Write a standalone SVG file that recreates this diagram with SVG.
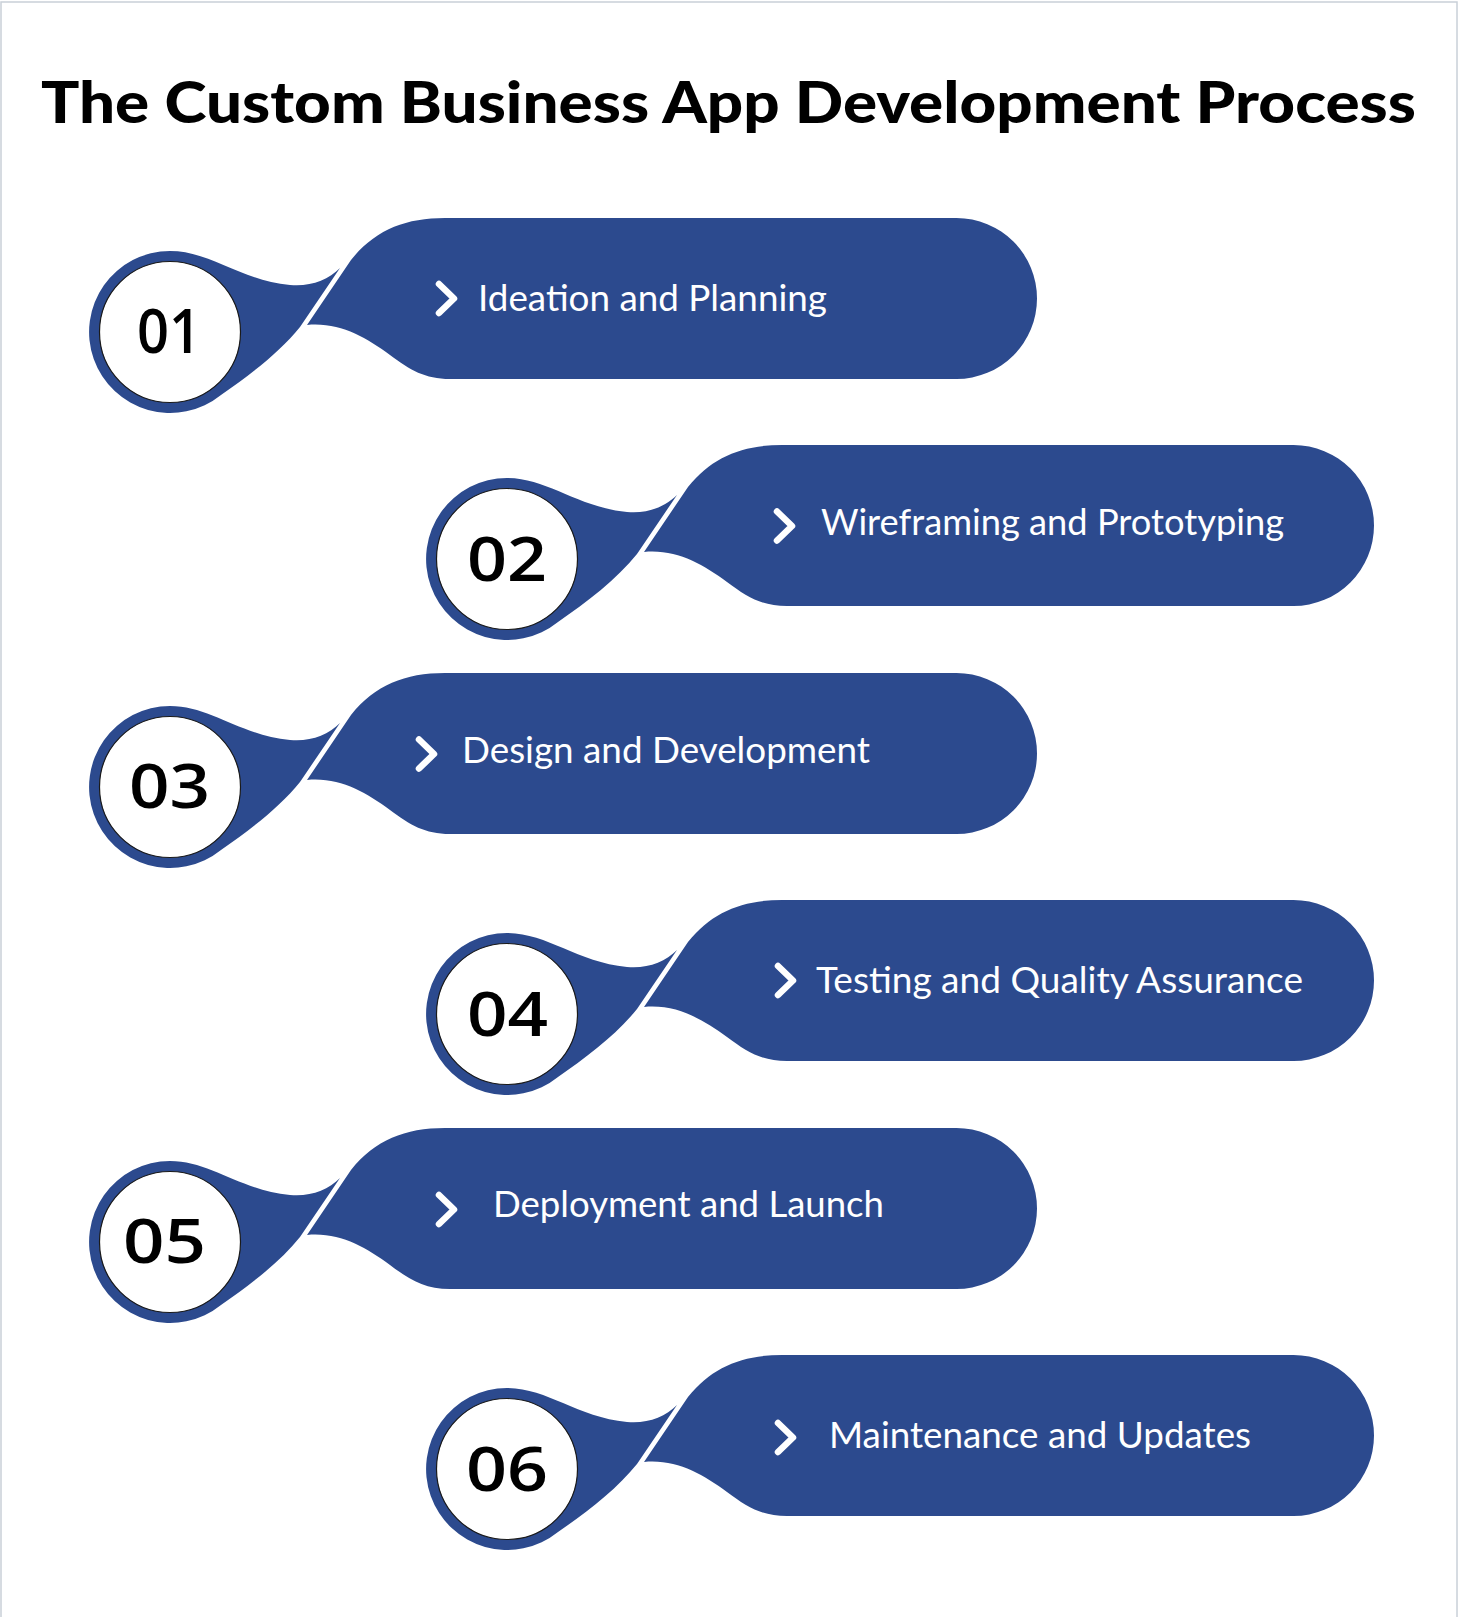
<svg xmlns="http://www.w3.org/2000/svg" width="1459" height="1617" viewBox="0 0 1459 1617">
  <defs>
    <style>
      .blue { fill: #2c4a8e; }
      .inner { fill: #ffffff; stroke: #1a1a1a; stroke-width: 1.2; }
      .num { font-family: "Open Sans", "Liberation Sans", sans-serif; font-weight: 600; font-size: 61px; fill: #000000; text-anchor: middle; }
      .label { font-family: Lato, "Liberation Sans", sans-serif; font-size: 37px; fill: #ffffff; }
      .chev { fill: none; stroke: #ffffff; stroke-width: 6.5; stroke-linecap: round; stroke-linejoin: round; }
      .title { font-family: Lato, "Liberation Sans", sans-serif; font-weight: 900; font-size: 58px; fill: #000000; }
    </style>
    <g id="shape">
      <path class="blue" d="M 170,251 C 210,251 240,280 290,285 C 310,287 328,280 340,268 L 300,327 C 280,352 250,375 221,395 A 81 81 0 1 1 170,251 Z"/>
      <circle class="inner" cx="170" cy="332" r="70.5"/>
      <path class="blue" d="M 307,325 L 351,260 C 375,230 405,218 445,218 L 956.5,218 A 80.5 80.5 0 0 1 956.5,379 L 450,379 C 425,379 410,370 390,355 C 365,337 340,322 307,325 Z"/>
    </g>
  </defs>

  <rect x="1" y="2" width="1456" height="1640" fill="#ffffff" stroke="#c9d0d8" stroke-width="1.5"/>

  <text class="title" x="41" y="123" textLength="1375" lengthAdjust="spacingAndGlyphs">The Custom Business App Development Process</text>

  <g id="connectors"></g>

  <g id="step-01">
    <use href="#shape"/>
    <text class="num" x="169" y="353" textLength="64" lengthAdjust="spacingAndGlyphs">01</text>
    <polyline class="chev" points="439,284 454,298.5 439,313"/>
    <text class="label" x="478" y="311" textLength="349" lengthAdjust="spacingAndGlyphs">Ideation and Planning</text>
  </g>

  <g id="step-02">
    <use href="#shape" transform="translate(337,227)"/>
    <text class="num" x="507" y="581" textLength="80" lengthAdjust="spacingAndGlyphs">02</text>
    <polyline class="chev" points="777,511.5 792,526 777,540.5"/>
    <text class="label" x="821" y="535" textLength="463" lengthAdjust="spacingAndGlyphs">Wireframing and Prototyping</text>
  </g>

  <g id="step-03">
    <use href="#shape" transform="translate(0,455)"/>
    <text class="num" x="169.5" y="808" textLength="81" lengthAdjust="spacingAndGlyphs">03</text>
    <polyline class="chev" points="419,739.5 434,754 419,768.5"/>
    <text class="label" x="462" y="763" textLength="408" lengthAdjust="spacingAndGlyphs">Design and Development</text>
  </g>

  <g id="step-04">
    <use href="#shape" transform="translate(337,682)"/>
    <text class="num" x="507.5" y="1036" textLength="81" lengthAdjust="spacingAndGlyphs">04</text>
    <polyline class="chev" points="778,966 793,980.5 778,995"/>
    <text class="label" x="816" y="993" textLength="487" lengthAdjust="spacingAndGlyphs">Testing and Quality Assurance</text>
  </g>

  <g id="step-05">
    <use href="#shape" transform="translate(0,910)"/>
    <text class="num" x="164.5" y="1263" textLength="83" lengthAdjust="spacingAndGlyphs">05</text>
    <polyline class="chev" points="439,1195 454,1209.5 439,1224"/>
    <text class="label" x="493" y="1217" textLength="391" lengthAdjust="spacingAndGlyphs">Deployment and Launch</text>
  </g>

  <g id="step-06">
    <use href="#shape" transform="translate(337,1137)"/>
    <text class="num" x="507" y="1491" textLength="82" lengthAdjust="spacingAndGlyphs">06</text>
    <polyline class="chev" points="778,1423 793,1437.5 778,1452"/>
    <text class="label" x="829" y="1448" textLength="422" lengthAdjust="spacingAndGlyphs">Maintenance and Updates</text>
  </g>
</svg>
